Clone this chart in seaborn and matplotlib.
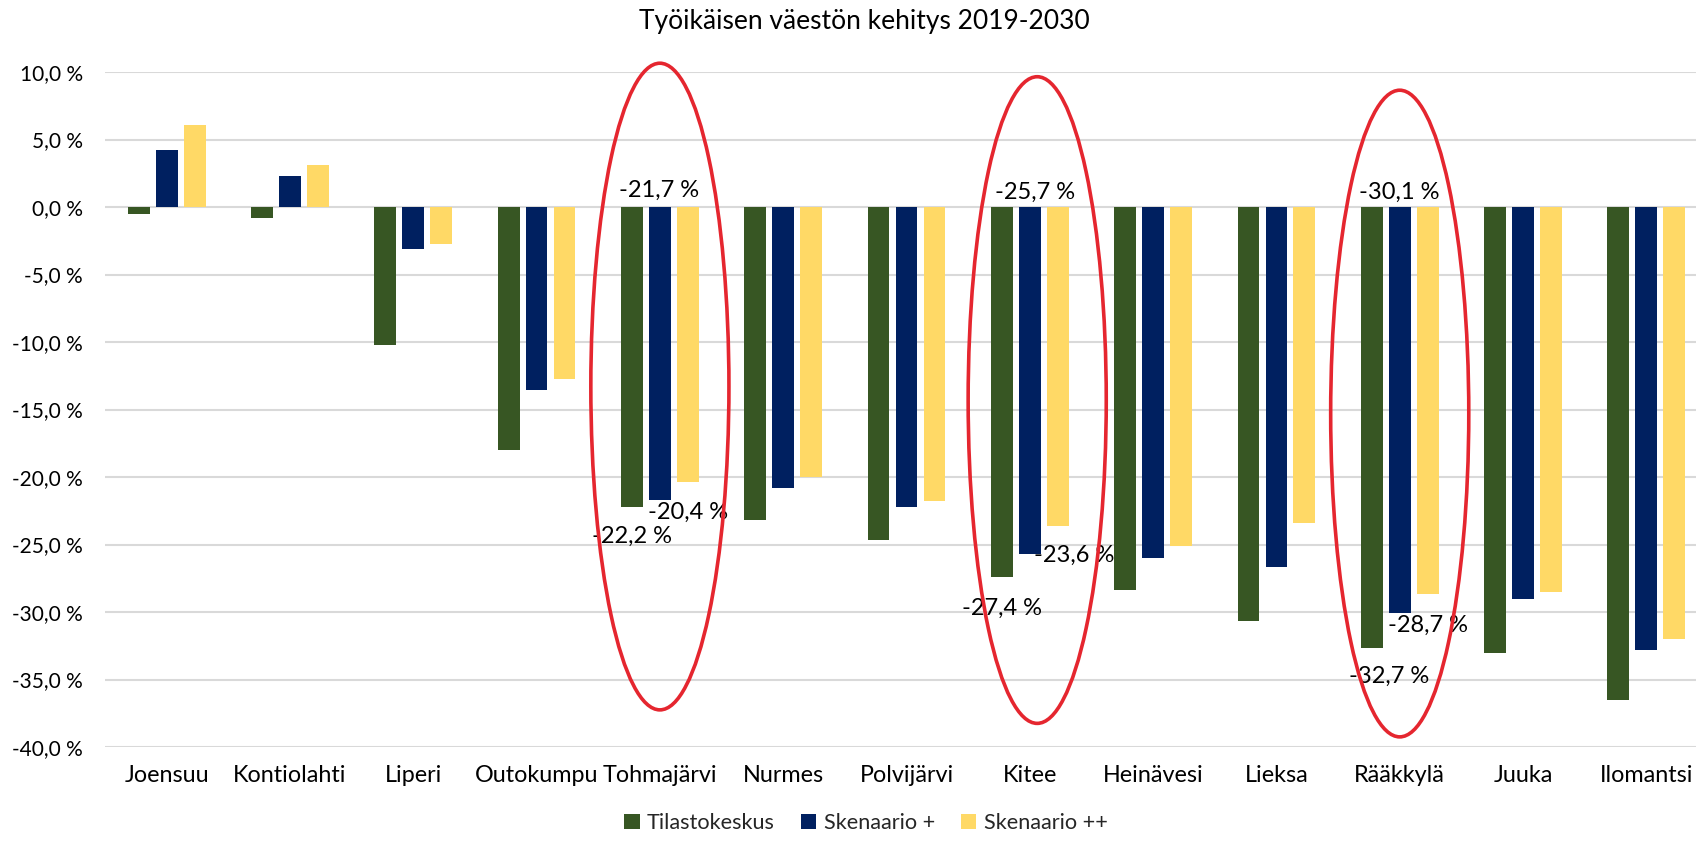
import pandas as pd
import numpy as np
import seaborn as sns
import matplotlib.pyplot as plt
from matplotlib.patches import Ellipse
from matplotlib.ticker import FuncFormatter

##################### data

kunnat = ['Joensuu', 'Kontiolahti', 'Liperi', 'Outokumpu', 'Tohmajärvi', 'Nurmes',
          'Polvijärvi', 'Kitee', 'Heinävesi', 'Lieksa', 'Rääkkylä', 'Juuka', 'Ilomantsi']
sarjat = ['Tilastokeskus', 'Skenaario +', 'Skenaario ++']

tilastokeskus = [-0.5, -0.85, -10.25, -18.0, -22.2, -23.2, -24.65, -27.4, -28.4, -30.7, -32.7, -33.05, -36.5]
skenaario_1 = [4.2, 2.3, -3.1, -13.55, -21.7, -20.85, -22.2, -25.7, -26.0, -26.7, -30.1, -29.0, -32.85]
skenaario_2 = [6.1, 3.1, -2.75, -12.75, -20.4, -20.0, -21.8, -23.6, -25.1, -23.4, -28.7, -28.5, -32.0]

# which municipalities get data labels and red circles
korostetut = ['Tohmajärvi', 'Kitee', 'Rääkkylä']

värit = ['#375623', '#002060', '#FFD966']

##################### long format for seaborn

df = pd.DataFrame({'kunta': kunnat,
                   'Tilastokeskus': tilastokeskus,
                   'Skenaario +': skenaario_1,
                   'Skenaario ++': skenaario_2})
df_long = df.melt(id_vars='kunta', var_name='lähde', value_name='muutos')

##################### plot

sns.set_style('white')
plt.rcParams['font.family'] = ['Lato', 'DejaVu Sans']

fig = plt.figure(figsize=(16.96, 8.43), dpi=100)
# plot area runs a bit past the right edge of the image, like the original
ax = fig.add_axes([105 / 1696, 96 / 843, 1603 / 1696, 675 / 843])

sns.barplot(data=df_long, x='kunta', y='muutos', hue='lähde', hue_order=sarjat,
            palette=värit, saturation=1, width=0.68, gap=0.22, linewidth=0, ax=ax)

ax.set_ylim(-40, 10)
ax.set_yticks(np.arange(-40, 10.1, 5))
ax.yaxis.set_major_formatter(FuncFormatter(lambda v, p: f'{v:.1f} %'.replace('.', ',')))
ax.grid(axis='y', color='#D9D9D9', linewidth=1.5)
ax.set_axisbelow(True)
sns.despine(ax=ax, left=True, bottom=True)
ax.tick_params(axis='y', length=0, pad=16, labelsize=15, labelcolor='black')
ax.tick_params(axis='x', length=0, pad=13, labelsize=16.8, labelcolor='black')
ax.set_xlabel('')
ax.set_ylabel('')

##################### data labels on the highlighted ones

def fmt(v):
    return f'{v:.1f} %'.replace('.', ',')

# offsets in pixels (dx right, dy down) from bar end; navy labels sit above zero
offsets = {
    ('Tohmajärvi', 0): (0, 30), ('Tohmajärvi', 1): (-1, -17), ('Tohmajärvi', 2): (0, 30),
    ('Kitee', 0): (0, 31), ('Kitee', 1): (5, -15), ('Kitee', 2): (16, 30),
    ('Rääkkylä', 0): (17, 28), ('Rääkkylä', 1): (0, -15), ('Rääkkylä', 2): (0, 31),
}

for s, cont in enumerate(ax.containers):
    for i, bar in enumerate(cont.patches):
        kunta = kunnat[i]
        if kunta not in korostetut:
            continue
        val = bar.get_height() + bar.get_y()
        bx = bar.get_x() + bar.get_width() / 2
        dx, dy = offsets[(kunta, s)]
        y0 = 0 if s == 1 else val
        ax.annotate(fmt(val), xy=(bx, y0), xytext=(dx * 0.72, -dy * 0.72),
                    textcoords='offset points', ha='center', va='center',
                    fontsize=17, color='black', zorder=5)

# red circles
ellipsit = {'Tohmajärvi': (-13.3, 0.0), 'Kitee': (-14.3, 0.06), 'Rääkkylä': (-15.3, 0.0)}
for kunta, (yc, xo) in ellipsit.items():
    i = kunnat.index(kunta)
    e = Ellipse((i + xo, yc), width=1.12, height=47.9, fill=False,
                edgecolor='#E5262F', linewidth=2.6, clip_on=False, zorder=6)
    ax.add_patch(e)

##################### title and legend

fig.text(864 / 1696, 1 - 21 / 843, 'Työikäisen väestön kehitys 2019-2030',
         ha='center', va='center', fontsize=19, color='black')

handles, labels = ax.get_legend_handles_labels()
ax.get_legend().remove()
fig.legend(handles, labels, loc='center', bbox_to_anchor=(866 / 1696, 1 - 823 / 843),
           ncol=3, frameon=False, fontsize=15.6, handlelength=0.7, handleheight=0.7,
           handletextpad=0.35, columnspacing=1.2)

fig.savefig('out.png', dpi=100)
